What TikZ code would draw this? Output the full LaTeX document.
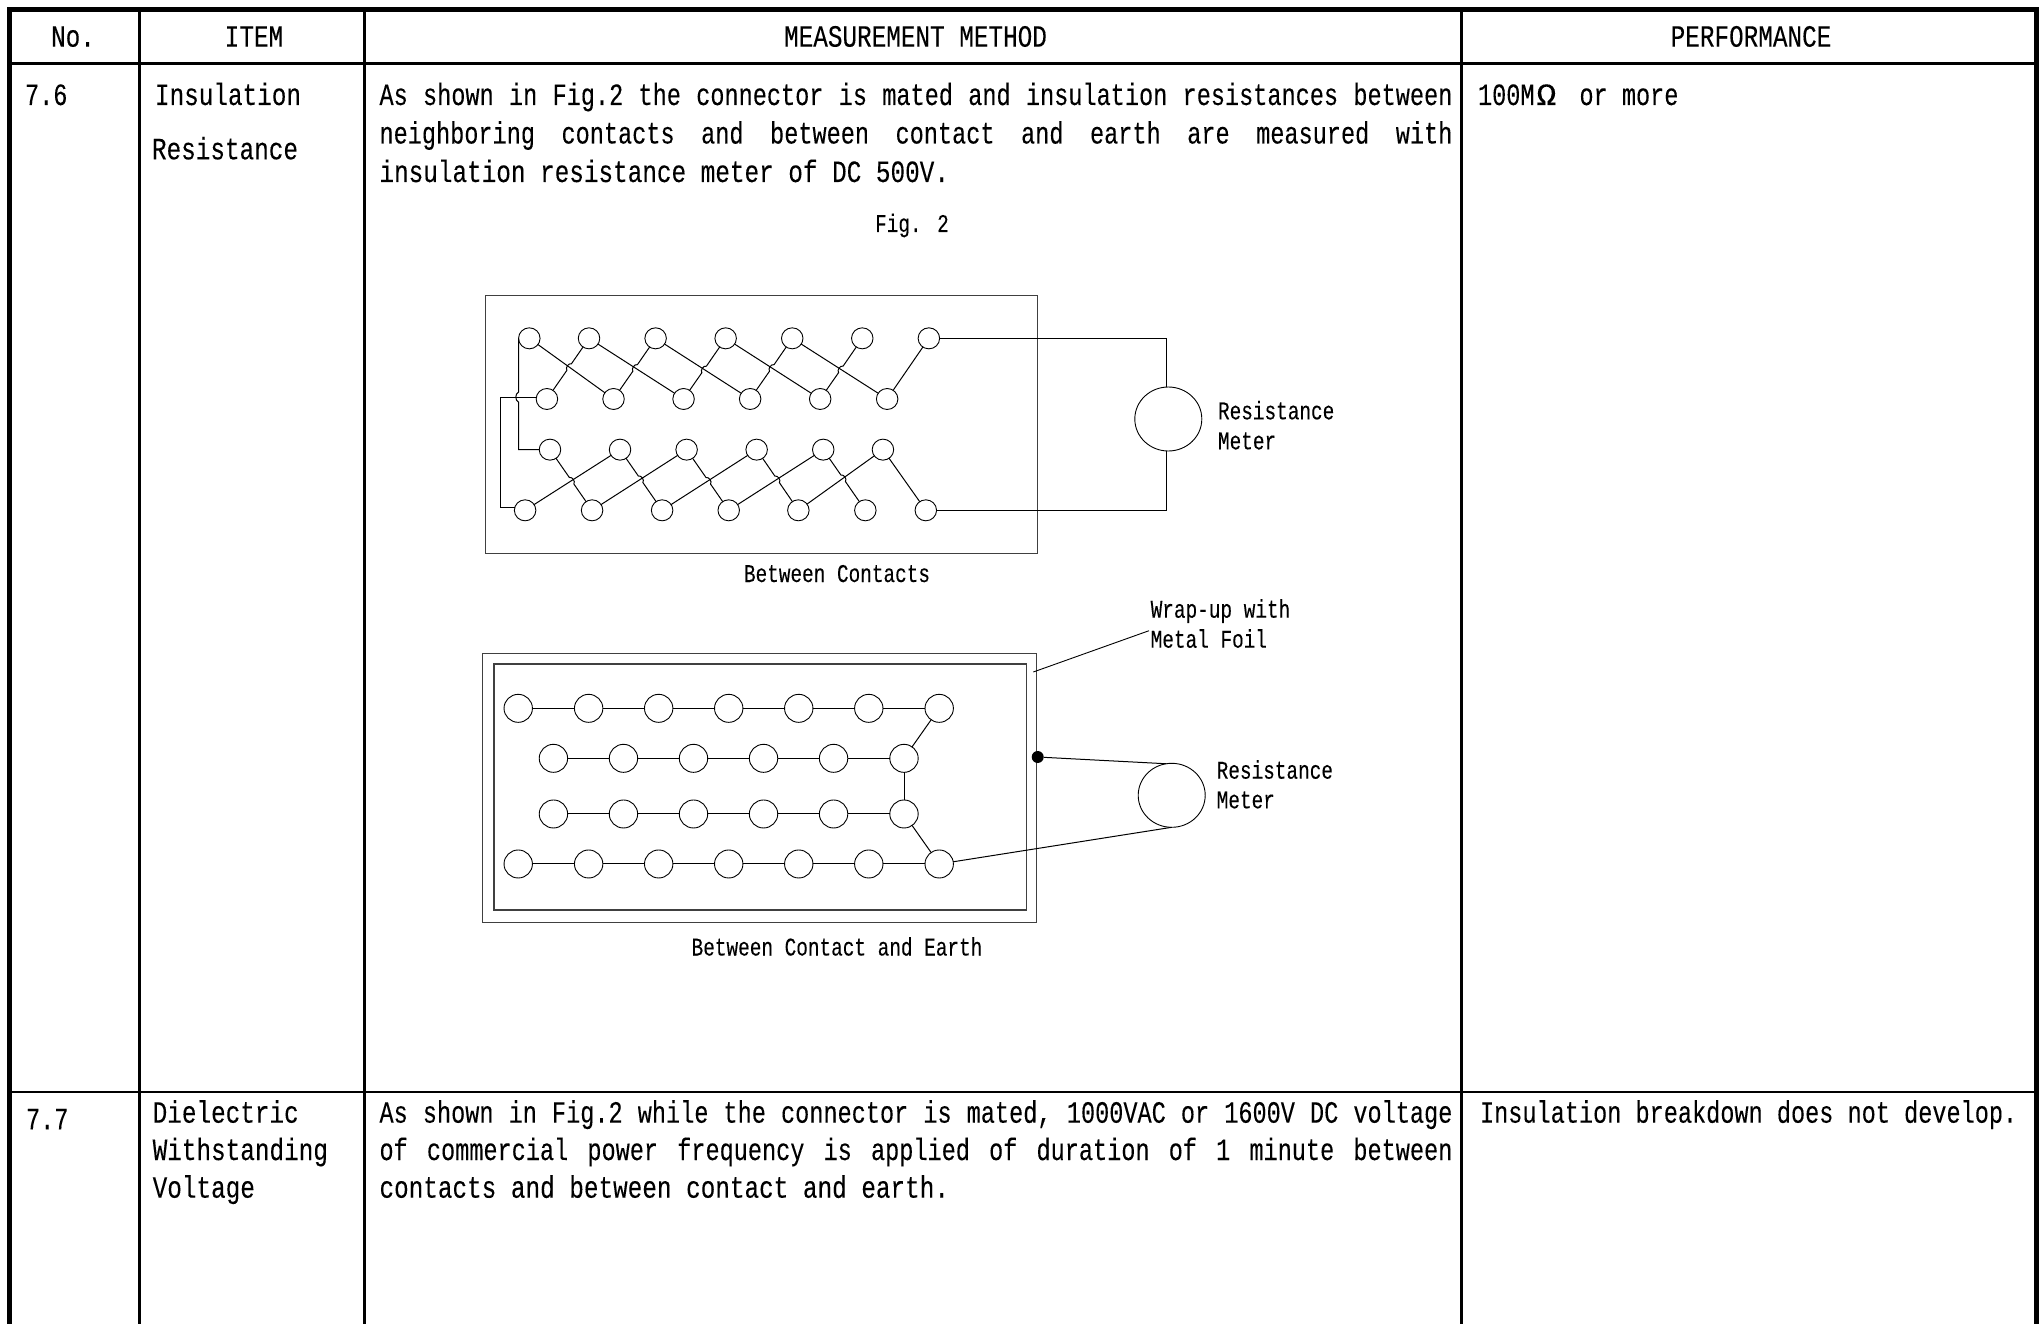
\documentclass[tikz,border=0pt]{standalone}
\usepackage{fontspec}
\usepackage{graphicx}
\usetikzlibrary{shapes.geometric,calc}
\setmainfont[FakeStretch=0.76]{Liberation Mono}
\newfontfamily\gothic[FakeStretch=0.76,FakeBold=0.12]{Liberation Mono}
\newfontfamily\gothicw[FakeStretch=0.785,FakeBold=0.12]{Liberation Mono}
\tikzset{
 frame/.style={line width=5pt,black},
 hdr/.style={line width=3.5pt,black},
 colrule/.style={line width=2.4pt,black},
 wire/.style={line width=1pt,black},
 boxline/.style={line width=1.3pt,black!75},
 body/.style={anchor=base west,inner sep=0pt,outer sep=0pt,font=\gothic\fontsize{31}{31}\selectfont},
 wide/.style={anchor=base west,inner sep=0pt,outer sep=0pt,font=\gothicw\fontsize{31}{31}\selectfont},
 widec/.style={wide,anchor=base},
 small/.style={anchor=base west,inner sep=0pt,outer sep=0pt,font=\gothic\fontsize{25.5}{25.5}\selectfont},
 smallc/.style={small,anchor=base},
 pin/.style={draw=black,line width=.9pt,ellipse,minimum width=21.5pt,minimum height=21pt,inner sep=0pt,outer sep=0pt},
 bigpin/.style={draw=black,line width=.9pt,ellipse,minimum width=28.4pt,minimum height=28pt,inner sep=0pt,outer sep=0pt},
 meter/.style={draw=black,line width=.9pt,ellipse,minimum width=67pt,minimum height=64pt,inner sep=0pt,outer sep=0pt},
}
\newcommand{\jline}[1]{\makebox[1073pt][s]{#1}}
\begin{document}
\begin{tikzpicture}[x=1pt,y=-1pt]
\useasboundingbox (0,0) rectangle (2044,1324);
\fill[white] (0,0) rectangle (2044,1324);
% table
\draw[frame] (9.5,1324) -- (9.5,9.5) -- (2036,9.5) -- (2036,1324);
\draw[hdr] (9.5,63.5) -- (2036,63.5);
\draw[colrule] (9.5,1091.7) -- (2036,1091.7);
\foreach \cx in {139.5,364.5,1461.5} \draw[colrule] (\cx,9.5) -- (\cx,1324);
% header
\node[widec] (hNo) at (73,46.7) {No.};
\node[widec] (hItem) at (254,46.7) {ITEM};
\node[widec] (hMeth) at (915.5,46.7) {MEASUREMENT METHOD};
\node[widec] (hPerf) at (1751,46.7) {PERFORMANCE};
% row 7.6
\node[body] (n76) at (25,105) {7.6};
\node[wide] (i1) at (155,105) {Insulation};
\node[wide] (i2) at (152,159.3) {Resistance};
\node[body] (m1) at (379.5,105) {\jline{As shown in Fig.2 the connector is mated and insulation resistances between}};
\node[body] (m2) at (379.5,143.5) {\jline{neighboring contacts and between contact and earth are measured with}};
\node[wide] (m3) at (379.5,182) {insulation resistance meter of DC 500V.};
\node[body] (p1) at (1478,105) {100M\makebox[44.9pt][l]{\hspace{2pt}\scalebox{1.4}[1]{\symbol{"03A9}}}or more};
\node[smallc] (fig) at (912,232) {Fig. 2};
% Between contacts diagram
\draw[boxline] (485.3,295.7) rectangle (1037.5,553.3);
\begin{scope}[shift={(470pt,-280pt)},x=0.3827pt,y=0.3333pt]
\foreach \n/\x in {1/155,2/311,3/485,4/668,5/842,6/1025,7/1199} \node[pin] (a\n) at (\x,-175) {};
\foreach \n/\x in {1/201,2/375,3/558,4/732,5/915,6/1090} \node[pin] (b\n) at (\x,-357) {};
\foreach \n/\x in {1/209,2/392,3/566,4/749,5/923,6/1079} \node[pin] (c\n) at (\x,-509) {};
\foreach \n/\x in {1/144,2/319,3/502,4/676,5/858,6/1033,7/1191} \node[pin] (d\n) at (\x,-691) {};
\end{scope}
\foreach \pp/\qq in {a1/b2,a2/b3,a3/b4,a4/b5,a5/b6,b6/a7,
  d1/c2,d2/c3,d3/c4,d4/c5,d5/c6,c6/d7} \draw[wire] (\pp) -- (\qq);
% steep wires hop over the diagonals they cross
\foreach \pp/\qq/\rr/\ss in {b1/a2/a1/b2,b2/a3/a2/b3,b3/a4/a3/b4,b4/a5/a4/b5,b5/a6/a5/b6,
  c1/d2/d1/c2,c2/d3/d2/c3,c3/d4/d3/c4,c4/d5/d4/c5,c5/d6/d5/c6}{
  \coordinate (xx) at (intersection cs:first line={(\pp)--(\qq)},second line={(\rr)--(\ss)});
  \draw[wire] (\pp) -- ($(xx)!4pt!(\pp)$) to[bend left=70] ($(xx)!4pt!(\qq)$) -- (\qq);
}
\coordinate (railL) at (500,0);
\coordinate (xs) at (a1.west |- b1.170);
\draw[wire] (a1.west) -- ($(xs)+(0,-5)$) to[bend right=70] ($(xs)+(0,5)$) -- (a1.west |- c1) -- (c1.west);
\draw[wire] (b1.170) -- (b1.170 -| railL) -- (d1.165 -| railL) -- (d1.165);
\coordinate (rail) at (1166.7,0);
\node[meter] (M1) at (1168.3,419) {};
\draw[wire] (a7.east) -- (a7.east -| rail) -- (M1.north -| rail);
\draw[wire] (d7.east) -- (d7.east -| rail) -- (M1.south -| rail);
\node[small] (r1) at (1218,419.3) {Resistance};
\node[small] (r2) at (1218,449.3) {Meter};
\node[smallc] (bc) at (837,582) {Between Contacts};
% Earth diagram
\draw[boxline] (482.6,653.3) rectangle (1036.4,922.7);
\draw[boxline] (494,664) rectangle (1026.8,910);
\begin{scope}[shift={(470pt,-640pt)},x=0.3827pt,y=0.3333pt]
\foreach \n/\x in {1/126,2/310,3/493,4/676,5/859,6/1042,7/1226} {
  \node[bigpin] (e\n) at (\x,-205) {};
  \node[bigpin] (h\n) at (\x,-672) {};}
\foreach \n/\x in {1/218,2/401,3/584,4/767,5/950,6/1134} {
  \node[bigpin] (f\n) at (\x,-355) {};
  \node[bigpin] (g\n) at (\x,-522) {};}
\end{scope}
\foreach \pp/\qq in {e1/e2,e2/e3,e3/e4,e4/e5,e5/e6,e6/e7,f1/f2,f2/f3,f3/f4,f4/f5,f5/f6,
  g1/g2,g2/g3,g3/g4,g4/g5,g5/g6,h1/h2,h2/h3,h3/h4,h4/h5,h5/h6,h6/h7,e7/f6,f6/g6,g6/h7}
  \draw[wire] (\pp) -- (\qq);
\node[circle,fill=black,minimum size=12pt,inner sep=0pt] (dot) at (1037.7,757) {};
\node[meter] (M2) at (1171.7,795.3) {};
\draw[wire] (dot) -- (M2.100);
\draw[wire] (h7) -- (M2.south);
\coordinate (foil) at (1033.3,672);
\coordinate (lead) at (1149,630.7);
\draw[line width=.9pt] (foil) -- (lead);
\node[small] (w1) at (1150.7,617.7) {Wrap-up with};
\node[small] (w2) at (1150.7,647.7) {Metal Foil};
\node[small] (r3) at (1216.7,778.7) {Resistance};
\node[small] (r4) at (1216.7,808.3) {Meter};
\node[smallc] (bce) at (837,955.5) {Between Contact and Earth};
% row 7.7
\node[body] (n77) at (26,1129.3) {7.7};
\node[wide] (d1t) at (152.7,1122.7) {Dielectric};
\node[wide] (d2t) at (152.7,1160) {Withstanding};
\node[wide] (d3t) at (152.7,1197.7) {Voltage};
\node[body] (t1) at (379.5,1122.7) {\jline{As shown in Fig.2 while the connector is mated, 1000VAC or 1600V DC voltage}};
\node[body] (t2) at (379.5,1160) {\jline{of commercial power frequency is applied of duration of 1 minute between}};
\node[wide] (t3) at (379.5,1197.7) {contacts and between contact and earth.};
\node[body] (p2) at (1480,1122.7) {Insulation breakdown does not develop.};
\end{tikzpicture}
\end{document}
